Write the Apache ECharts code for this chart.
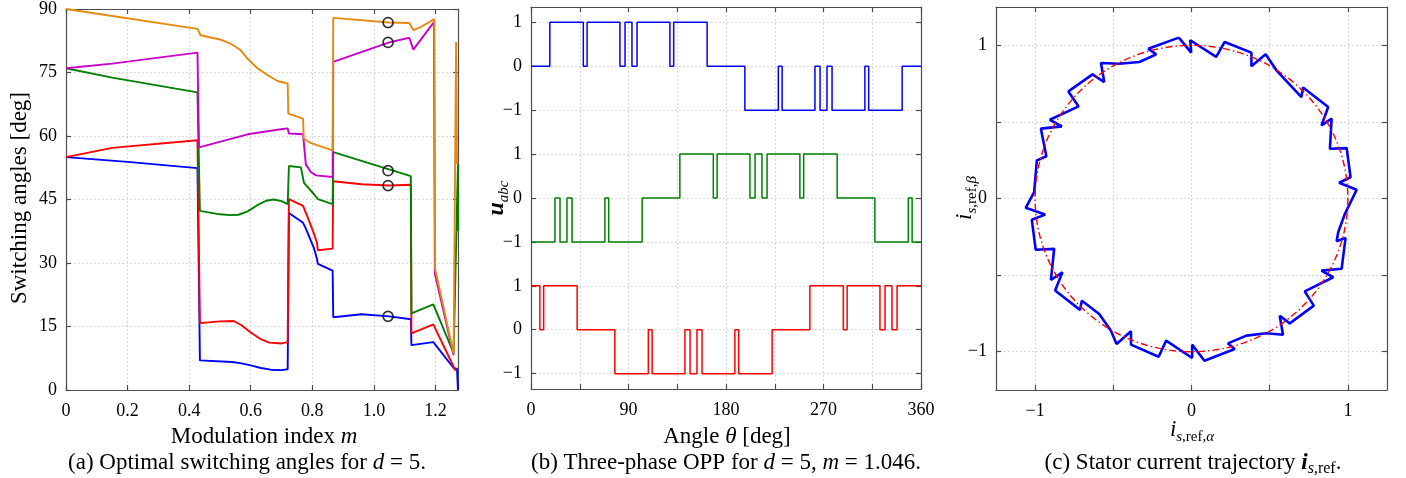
<!DOCTYPE html>
<html>
<head>
<meta charset="utf-8">
<script src="https://cdn.jsdelivr.net/npm/echarts@6/dist/echarts.min.js"></script>
<style>
  html, body { margin: 0; padding: 0; background: #fff; }
  #chart { width: 1406px; height: 478px; }
</style>
</head>
<body>
<div id="chart"></div>
<script>
// ---------- (a) optimal switching angles versus modulation index ----------
const blueM = [0, 0.2, 0.427, 0.435, 0.54, 0.57, 0.6, 0.633, 0.665, 0.7, 0.72, 0.724, 0.77, 0.779, 0.805, 0.815, 0.818, 0.866, 0.868, 0.96, 1.05, 1.12, 1.122, 1.193, 1.259, 1.27, 1.273];
const blueAngle = [55, 53.9, 52.4, 7.0, 6.6, 6.3, 5.8, 5.2, 4.8, 4.7, 4.9, 41.8, 39.5, 38.1, 33.6, 31.0, 29.8, 28.2, 17.2, 17.9, 17.4, 16.7, 10.6, 11.3, 5.2, 5.0, 0];

const redM = [0, 0.15, 0.427, 0.435, 0.5, 0.545, 0.57, 0.6, 0.633, 0.66, 0.7, 0.72, 0.724, 0.77, 0.786, 0.805, 0.815, 0.818, 0.866, 0.868, 0.96, 1.05, 1.12, 1.122, 1.193, 1.259, 1.265];
const redAngle = [55, 57.2, 59.0, 15.8, 16.2, 16.3, 15.3, 13.6, 12.0, 11.2, 11.0, 11.3, 45.1, 43.5, 40.6, 37.0, 34.8, 33.0, 33.4, 49.3, 48.6, 48.3, 48.5, 13.4, 15.5, 5.5, 4.5];

const greenM = [0, 0.15, 0.427, 0.435, 0.5, 0.535, 0.56, 0.59, 0.62, 0.65, 0.675, 0.7, 0.72, 0.724, 0.763, 0.773, 0.805, 0.818, 0.866, 0.868, 1.12, 1.122, 1.193, 1.259, 1.273, 1.273];
const greenAngle = [76, 73.8, 70.3, 42.3, 41.5, 41.3, 41.4, 42.2, 43.6, 44.7, 45.0, 44.6, 43.9, 52.9, 52.6, 48.9, 46.3, 45.1, 43.9, 56.2, 50.5, 18.1, 20.2, 8.7, 53.3, 37.6];

const magentaM = [0, 0.15, 0.427, 0.432, 0.59, 0.698, 0.72, 0.724, 0.77, 0.779, 0.795, 0.812, 0.866, 0.868, 1.05, 1.115, 1.128, 1.195, 1.198, 1.259];
const magentaAngle = [76, 77.1, 79.7, 57.3, 60.4, 61.6, 61.8, 60.6, 60.4, 53.3, 51.5, 50.7, 50.3, 77.5, 82.1, 83.2, 80.4, 86.9, 27.5, 8.2];

const orangeM = [0, 0.427, 0.437, 0.5, 0.535, 0.567, 0.589, 0.622, 0.654, 0.687, 0.72, 0.722, 0.77, 0.772, 0.796, 0.866, 0.868, 1.05, 1.115, 1.128, 1.154, 1.196, 1.199, 1.259, 1.267, 1.27];
const orangeAngle = [90, 85.3, 83.8, 82.8, 81.8, 80.3, 78.3, 76.0, 74.4, 73.0, 72.4, 65.3, 64.1, 59.4, 58.3, 56.6, 87.9, 86.8, 86.7, 85.0, 85.8, 87.6, 28.6, 8.6, 82.2, 53.3];

// operating point marked with circles
const opM = 1.046;
const opAngles = [17.4, 48.3, 51.8, 82.1, 86.8];

const xTicksA = [0, 0.2, 0.4, 0.6, 0.8, 1.0, 1.2];

// ---------- (b) three-phase pulse pattern: switching instants [deg] and levels ----------
const phaseAAngle = [0, 17.4, 48.3, 51.8, 82.1, 86.8, 93.2, 97.9, 128.2, 131.7, 162.6, 197.4, 228.3, 231.8, 262.1, 266.8, 273.2, 277.9, 308.2, 311.7, 342.6, 360];
const phaseALevel = [0, 1, 0, 1, 0, 1, 0, 1, 0, 1, 0, -1, 0, -1, 0, -1, 0, -1, 0, -1, 0, 0];

const phaseBAngle = [0, 22.1, 26.8, 33.2, 37.9, 68.2, 71.7, 102.6, 137.4, 168.3, 171.8, 202.1, 206.8, 213.2, 217.9, 248.2, 251.7, 282.6, 317.4, 348.3, 351.8, 360];
const phaseBLevel = [-1, 0, -1, 0, -1, 0, -1, 0, 1, 0, 1, 0, 1, 0, 1, 0, 1, 0, -1, 0, -1, -1];

const phaseCAngle = [0, 8.2, 11.7, 42.6, 77.4, 108.3, 111.8, 142.1, 146.8, 153.2, 157.9, 188.2, 191.7, 222.6, 257.4, 288.3, 291.8, 322.1, 326.8, 333.2, 337.9, 360];
const phaseCLevel = [1, 0, 1, 0, -1, 0, -1, 0, -1, 0, -1, 0, -1, 0, 1, 0, 1, 0, 1, 0, 1, 1];

const xTicksB = [0, 45, 90, 135, 180, 225, 270, 315, 360];
const xLabelsB = [0, 90, 180, 270, 360];
const yTicksB = [-1, 0, 1, 2, 3, 4, 5, 6, 7];
const yLabelsB = ['\u22121', '0', '1', '\u22121', '0', '1', '\u22121', '0', '1'];

// ---------- (c) stator current trajectory in the alpha-beta plane ----------
const trajAlpha = [-0.081, -0.002, -0.008, 0.158, 0.212, 0.383, 0.383, 0.474, 0.543, 0.703, 0.713, 0.874, 0.831, 0.896, 0.885, 0.992, 1.017, 0.944, 1.056, 0.981, 0.938, 0.928, 0.985, 0.960, 0.831, 0.906, 0.724, 0.782, 0.628, 0.564, 0.585, 0.479, 0.351, 0.233, 0.276, 0.083, 0.004, 0.004, -0.162, -0.210, -0.387, -0.387, -0.479, -0.515, -0.590, -0.701, -0.713, -0.872, -0.825, -0.899, -0.878, -0.996, -1.021, -0.936, -1.060, -1.006, -0.989, -0.928, -0.963, -0.829, -0.906, -0.722, -0.787, -0.633, -0.558, -0.579, -0.462, -0.333, -0.226, -0.276, -0.081];
const trajBeta = [1.050, 0.952, 1.033, 0.924, 1.022, 0.952, 0.863, 0.941, 0.837, 0.662, 0.724, 0.597, 0.477, 0.521, 0.325, 0.329, 0.139, 0.103, 0.057, -0.100, -0.220, -0.279, -0.257, -0.459, -0.471, -0.514, -0.606, -0.699, -0.815, -0.765, -0.889, -0.880, -0.895, -0.946, -0.982, -1.059, -0.954, -1.041, -0.928, -1.033, -0.954, -0.867, -0.950, -0.863, -0.754, -0.667, -0.727, -0.601, -0.482, -0.531, -0.329, -0.335, -0.139, -0.105, -0.061, 0.041, 0.248, 0.276, 0.456, 0.471, 0.514, 0.601, 0.699, 0.810, 0.760, 0.884, 0.880, 0.891, 0.941, 0.978, 1.050];
const refRadius = 1;

const ticksC = [-1, -0.5, 0, 0.5, 1];
const labelsC = [-1, 0, 1];

// ---------- styling helpers ----------
const FONT = 'Liberation Serif';
const frameLine = { color: '#4d4d4d', width: 1.2 };
const gridLine = { color: '#cfcfcf', width: 1, type: [1.5, 2.5] };
const tickLabelSize = 18;

const pairs = (xs, ys) => xs.map((x, i) => [x, ys[i]]);
const minus = v => (v < 0 ? '\u2212' + Math.abs(v) : String(v));

function axis(opts) {
  const { gridIndex, position, min, max, interval, ticks, labels, formatter, main } = opts;
  const horizontal = position === 'bottom' || position === 'top';
  const a = {
    type: 'value', gridIndex, position, min, max,
    axisLine: { show: true, onZero: false, lineStyle: frameLine },
    axisTick: { show: true, inside: true, length: 5, lineStyle: frameLine },
    axisLabel: {
      show: !!main, fontFamily: FONT, fontSize: tickLabelSize, color: '#000',
      margin: horizontal ? 12 : 9,
      formatter: formatter || (v => minus(v))
    },
    splitLine: { show: !!main, lineStyle: gridLine }
  };
  if (interval !== undefined) a.interval = interval;
  if (ticks) a.axisTick.customValues = ticks;
  if (labels) a.axisLabel.customValues = labels;
  return a;
}

const grids = [
  { left: 66, top: 7, width: 392, height: 383 },
  { left: 531, top: 7, width: 390, height: 382 },
  { left: 996, top: 7, width: 391, height: 383 }
];

const fmtA = v => (v === 0 ? '0' : v.toFixed(1));
const fmtB = v => yLabelsB[yTicksB.indexOf(Math.round(v))] || '';

const xAxes = [
  axis({ gridIndex: 0, position: 'bottom', min: 0, max: 1.2732, ticks: xTicksA, labels: xTicksA, formatter: fmtA, main: true }),
  axis({ gridIndex: 0, position: 'top', min: 0, max: 1.2732, ticks: xTicksA }),
  axis({ gridIndex: 1, position: 'bottom', min: 0, max: 360, ticks: xTicksB, labels: xLabelsB, main: true }),
  axis({ gridIndex: 1, position: 'top', min: 0, max: 360, ticks: xTicksB }),
  axis({ gridIndex: 2, position: 'bottom', min: -1.25, max: 1.25, ticks: ticksC, labels: labelsC, main: true }),
  axis({ gridIndex: 2, position: 'top', min: -1.25, max: 1.25, ticks: ticksC })
];
const yAxes = [
  axis({ gridIndex: 0, position: 'left', min: 0, max: 90, interval: 15, main: true }),
  axis({ gridIndex: 0, position: 'right', min: 0, max: 90, interval: 15 }),
  axis({ gridIndex: 1, position: 'left', min: -1.35, max: 7.35, ticks: yTicksB, labels: yTicksB, formatter: fmtB, main: true }),
  axis({ gridIndex: 1, position: 'right', min: -1.35, max: 7.35, ticks: yTicksB }),
  axis({ gridIndex: 2, position: 'left', min: -1.25, max: 1.25, ticks: ticksC, labels: labelsC, main: true }),
  axis({ gridIndex: 2, position: 'right', min: -1.25, max: 1.25, ticks: ticksC })
];

function curve(xs, ys, color, xi, yi, width) {
  return {
    type: 'line', xAxisIndex: xi, yAxisIndex: yi, data: pairs(xs, ys),
    symbol: 'none', showSymbol: false, clip: true,
    lineStyle: { color, width }, itemStyle: { color }, z: 3
  };
}
function pulses(angles, levels, offset, color) {
  return {
    type: 'line', xAxisIndex: 2, yAxisIndex: 2, step: 'end',
    data: angles.map((a, i) => [a, levels[i] + offset]),
    symbol: 'none', showSymbol: false,
    lineStyle: { color, width: 1.5 }, itemStyle: { color }, z: 3
  };
}

const series = [
  curve(blueM, blueAngle, '#0000ff', 0, 0, 1.9),
  curve(redM, redAngle, '#ff0000', 0, 0, 1.9),
  curve(greenM, greenAngle, '#008000', 0, 0, 1.9),
  curve(magentaM, magentaAngle, '#c800c8', 0, 0, 1.9),
  curve(orangeM, orangeAngle, '#e8890f', 0, 0, 1.9),
  {
    type: 'scatter', xAxisIndex: 0, yAxisIndex: 0,
    data: opAngles.map(v => [opM, v]),
    symbol: 'circle', symbolSize: 10,
    itemStyle: { color: 'rgba(0,0,0,0)', borderColor: '#000', borderWidth: 1.7 }, z: 5
  },
  pulses(phaseAAngle, phaseALevel, 6, '#0000ff'),
  pulses(phaseBAngle, phaseBLevel, 3, '#008000'),
  pulses(phaseCAngle, phaseCLevel, 0, '#ff0000'),
  curve(trajAlpha, trajBeta, '#0000ff', 4, 4, 2.6),
  {
    type: 'custom', xAxisIndex: 4, yAxisIndex: 4,
    data: [[0, 0, refRadius]], silent: true, z: 4,
    renderItem(params, api) {
      const c = api.coord([api.value(0), api.value(1)]);
      const ex = api.coord([api.value(0) + api.value(2), api.value(1)]);
      const ey = api.coord([api.value(0), api.value(1) + api.value(2)]);
      const rx = ex[0] - c[0];
      const ry = c[1] - ey[1];
      return {
        type: 'circle', x: c[0], y: c[1], scaleX: 1, scaleY: ry / rx,
        shape: { cx: 0, cy: 0, r: rx },
        style: { fill: 'none', stroke: '#ff0000', lineWidth: 1.4, lineDash: [7, 3, 1.5, 3] }
      };
    }
  }
];

// ---------- titles and captions ----------
const base = { fontFamily: FONT, fill: '#000' };
function label(x, y, text, size, rotate, rich) {
  return {
    type: 'text', x, y, rotation: rotate ? Math.PI / 2 : 0, silent: true,
    style: Object.assign({}, base, { text, fontSize: size, align: 'center', verticalAlign: 'middle', rich: rich || {} })
  };
}
const nameSize = 23, capSize = 23;
const it = s => ({ fontFamily: FONT, fontStyle: 'italic', fontSize: s, fill: '#000' });
const richMain = {
  i: Object.assign(it(nameSize), { lineHeight: 29 }),
  bi: Object.assign(it(nameSize + 1), { fontWeight: 'bold', lineHeight: 29 }),
  si: Object.assign(it(15), { lineHeight: 29, verticalAlign: 'bottom' }),
  sr: { fontFamily: FONT, fontSize: 15, fill: '#000', lineHeight: 29, verticalAlign: 'bottom' }
};
const richCap = {
  i: it(capSize),
  bi: Object.assign(it(capSize), { fontWeight: 'bold', lineHeight: 28 }),
  si: Object.assign(it(16), { lineHeight: 28, verticalAlign: 'bottom' }),
  sr: { fontFamily: FONT, fontSize: 16, fill: '#000', lineHeight: 28, verticalAlign: 'bottom' }
};

const graphic = [
  label(20, 198, 'Switching angles [deg]', nameSize, true),
  label(264, 437, 'Modulation index {i|m}', nameSize, false, richMain),
  label(727, 437, 'Angle {i|\u03b8} [deg]', nameSize, false, richMain),
  label(497, 198, '{bi|u}{si|abc}', nameSize, true, richMain),
  label(1192, 430, '{i|i}{si|s}{sr|,ref,}{si|\u03b1}', nameSize, false, richMain),
  label(965, 198, '{i|i}{si|s}{sr|,ref,}{si|\u03b2}', nameSize, true, richMain),
  label(247, 463, '(a) Optimal switching angles for {i|d} = 5.', capSize, false, richCap),
  label(726, 463, '(b) Three-phase OPP for {i|d} = 5, {i|m} = 1.046.', capSize, false, richCap),
  label(1193, 463, '(c) Stator current trajectory {bi|i}{si|s}{sr|,ref}.', capSize, false, richCap)
];

const chart = echarts.init(document.getElementById('chart'), null, { renderer: 'canvas' });
chart.setOption({
  animation: false,
  backgroundColor: '#fff',
  textStyle: { fontFamily: FONT },
  grid: grids,
  xAxis: xAxes,
  yAxis: yAxes,
  series,
  graphic
});
</script>
</body>
</html>
